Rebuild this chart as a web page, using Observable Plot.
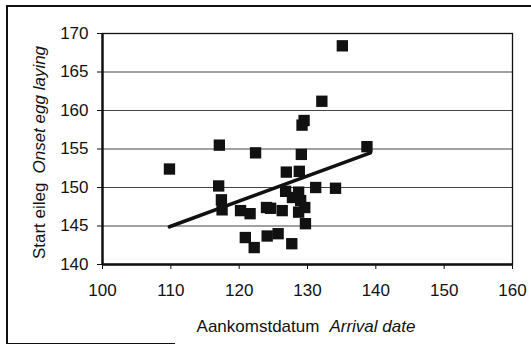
<!DOCTYPE html>
<html><head><meta charset="utf-8">
<script src="https://cdn.jsdelivr.net/npm/d3@7"></script>
<script src="https://cdn.jsdelivr.net/npm/@observablehq/plot@0.6"></script>
<style>
body{margin:0;background:#fff;}
#wrap{position:relative;width:531px;height:346px;overflow:hidden;font-family:"Liberation Sans",Arial,sans-serif;background:#fff;}
#wrap svg{position:absolute;left:0;top:0;}
.b{position:absolute;background:#111;}
</style></head><body><div id="wrap"></div>
<script>
// Arrival date (x) and onset of egg laying (y) for each bird
const arrival = [109.8,117.1,117.0,117.4,117.5,120.2,121.6,120.9,122.2,122.4,124.0,124.6,126.3,124.1,125.7,127.7,126.9,128.8,126.8,127.8,128.7,129.0,129.6,128.7,129.7,129.1,129.2,129.5,131.2,134.1,132.1,135.1,138.7];
const onset   = [152.4,155.5,150.2,148.4,147.1,147.0,146.6,143.5,142.2,154.5,147.4,147.3,147.0,143.7,144.0,142.7,152.0,152.1,149.5,148.7,149.4,148.3,147.4,146.8,145.3,154.3,158.1,158.7,150.0,149.9,161.2,168.4,155.3];
const xTicks = [100,110,120,130,140,150,160];
const yTicks = [140,145,150,155,160,165,170];
const trendArrival = [109.8,139.2];
const trendOnset = [144.9,154.5];
const xLabel = ["Aankomstdatum", "Arrival date"];
const yLabel = ["Start eileg", "Onset egg laying"];

const pts = arrival.map((x,i)=>({x, y: onset[i]}));
const trend = trendArrival.map((x,i)=>({x, y: trendOnset[i]}));

const chart = Plot.plot({
  width:531, height:346,
  marginLeft:102, marginRight:19, marginTop:33, marginBottom:82,
  style:{fontSize:"17px", fontFamily:"'Liberation Sans', Arial, sans-serif", color:"#111", background:"transparent"},
  x:{domain:[100,160]},
  y:{domain:[140,170]},
  marks:[
    Plot.ruleY(yTicks.filter(t=>t>140), {stroke:"#444", strokeWidth:1.2}),
    Plot.frame({stroke:"#111", strokeWidth:1.3}),
    Plot.axisX({ticks:xTicks, tickSize:5, tickPadding:14, label:null, tickFormat:d=>String(d)}),
    Plot.axisY({ticks:yTicks, tickSize:5, tickPadding:9, label:null, tickFormat:d=>String(d)}),
    Plot.ruleX([100], {stroke:"#111", strokeWidth:2.4}),
    Plot.ruleY([140], {stroke:"#111", strokeWidth:2.4}),
    Plot.line(trend, {x:"x", y:"y", stroke:"#111", strokeWidth:3.6}),
    Plot.dot(pts, {x:"x", y:"y", symbol:"square", r:6.4, fill:"#111", stroke:null})
  ]
});
const wrap = document.getElementById("wrap");
wrap.appendChild(chart);

const svg = d3.select(chart);
const xs = chart.scale("x"), ys = chart.scale("y");
const xc = (xs.range[0]+xs.range[1])/2;
const yc = (ys.range[0]+ys.range[1])/2;

const tx = svg.append("text").attr("x", xc-1).attr("y", 332)
  .attr("text-anchor","middle").attr("fill","#111").style("font-size","17px")
  .style("font-family","'Liberation Sans', Arial, sans-serif");
tx.append("tspan").text(xLabel[0]);
tx.append("tspan").attr("dx",10).style("font-style","italic").text(xLabel[1]);

const ty = svg.append("text").attr("transform",`translate(45,${yc+4}) rotate(-90)`)
  .attr("text-anchor","middle").attr("fill","#111").style("font-size","17px")
  .style("font-family","'Liberation Sans', Arial, sans-serif");
ty.append("tspan").text(yLabel[0]);
ty.append("tspan").attr("dx",9).style("font-style","italic").text(yLabel[1]);

// outer chart border (top, left, partial bottom)
function bar(l,t,w,h){const d=document.createElement("div");d.className="b";d.style.left=l+"px";d.style.top=t+"px";d.style.width=w+"px";d.style.height=h+"px";wrap.appendChild(d);}
bar(6,5,525,1.5);
bar(6,5,1.5,339);
bar(6,342.5,169,1.5);
</script>
</body></html>
